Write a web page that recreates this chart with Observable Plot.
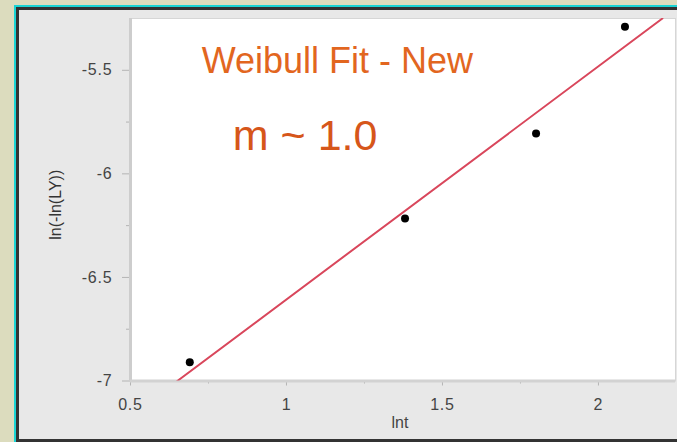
<!DOCTYPE html>
<html>
<head>
<meta charset="utf-8">
<script src="https://cdn.jsdelivr.net/npm/d3@7"></script>
<script src="https://cdn.jsdelivr.net/npm/@observablehq/plot@0.6"></script>
<style>
  html, body { margin: 0; padding: 0; }
  body { width: 677px; height: 442px; overflow: hidden; background: #dcdcbe; position: relative; font-family: "Liberation Sans", Arial, sans-serif; }
  #cyan { position: absolute; left: 14px; top: 5px; right: 0; bottom: 0; border-left: 2px solid #19d4d4; border-top: 2px solid #19d4d4; }
  #panel { position: absolute; left: 16px; top: 7px; right: 0; bottom: 0; border-left: 3px solid #333; border-top: 3px solid #333; border-bottom: 3px solid #333; background: #e8e8e8; }
  #chart { position: absolute; left: 0; top: 0; }
</style>
</head>
<body>
<div id="cyan"></div>
<div id="panel"></div>
<div id="chart"></div>
<script>
// Data points
const lnt = [0.69, 1.38, 1.80, 2.085];
const lnlnLY = [-6.91, -6.215, -5.805, -5.29];
// Fitted line endpoints
const fitX = [0.65, 2.205];
const fitY = [-7.0, -5.25];
// Ticks
const xTicks = [0.5, 1, 1.5, 2];
const xMinor = [0.75, 1.25, 1.75];
const yTicks = [-7, -6.5, -6, -5.5];
const yMinor = [-6.75, -6.25, -5.75];
// Annotations
const noteText = ["Weibull Fit - New", "m ~ 1.0"];
const noteX = [0.728, 0.828];
const noteY = [-5.457, -5.817];
const noteSize = [36, 43];
const noteColor = ["#e2661f", "#d6561a"];

const points = lnt.map((x, i) => ({x, y: lnlnLY[i]}));
const fit = fitX.map((x, i) => ({x, y: fitY[i]}));
const notes = noteText.map((t, i) => ({t, x: noteX[i], y: noteY[i], s: noteSize[i], c: noteColor[i]}));

const chart = Plot.plot({
  width: 677,
  height: 442,
  marginLeft: 130,
  marginRight: 2,
  marginTop: 18,
  marginBottom: 61.5,
  style: { background: "transparent", fontFamily: "'Liberation Sans', Arial, sans-serif", fontSize: "14px" },
  x: { domain: [0.5, 2.247] },
  y: { domain: [-7, -5.25] },
  marks: [
    Plot.frame({ fill: "white", stroke: "#d6d6d6" }),
    Plot.axisX({ ticks: xTicks, tickSize: 5, tickPadding: 13, tickFormat: d => `${d}`, stroke: "#b4b4b4", fill: "#444", label: null, fontSize: 16 }),
    Plot.axisX({ ticks: xMinor, tickSize: 3, tickFormat: () => "", stroke: "#b4b4b4", label: null }),
    Plot.axisY({ ticks: yTicks, tickSize: 8, tickPadding: 10, tickFormat: d => `${d}`, stroke: "#b4b4b4", fill: "#444", label: null, fontSize: 16 }),
    Plot.axisY({ ticks: yMinor, tickSize: 4, tickFormat: () => "", stroke: "#b4b4b4", label: null }),
    Plot.ruleX([0.5], { stroke: "#cdcdcd", strokeWidth: 3 }),
    Plot.ruleY([-7], { stroke: "#d2d2d2", strokeWidth: 3 }),
    Plot.line(fit, { x: "x", y: "y", stroke: "#d9475c", strokeWidth: 2, clip: true }),
    Plot.dot(points, { x: "x", y: "y", r: 4, fill: "black" }),
    Plot.text(notes, { x: "x", y: "y", text: "t", fill: "c", fontSize: "s", textAnchor: "start", lineAnchor: "middle" }),
    Plot.text(["lnt"], { text: d => d, frameAnchor: "bottom", textAnchor: "middle", dx: -3, dy: 47, fill: "#444", fontSize: 16, ariaLabel: "axis-title" }),
    Plot.text(["ln(-ln(LY))"], { text: d => d, frameAnchor: "left", textAnchor: "middle", lineAnchor: "middle", dx: -75, dy: 5, rotate: -90, fill: "#333", fontSize: 16, ariaLabel: "axis-title" })
  ]
});
d3.select(chart).selectAll('g[aria-label$="tick label"] text').attr("letter-spacing", "0.8px");
d3.select(chart).selectAll('g[aria-label="axis-title"] text').attr("letter-spacing", "1.2px");
document.getElementById("chart").appendChild(chart);
</script>
</body>
</html>
